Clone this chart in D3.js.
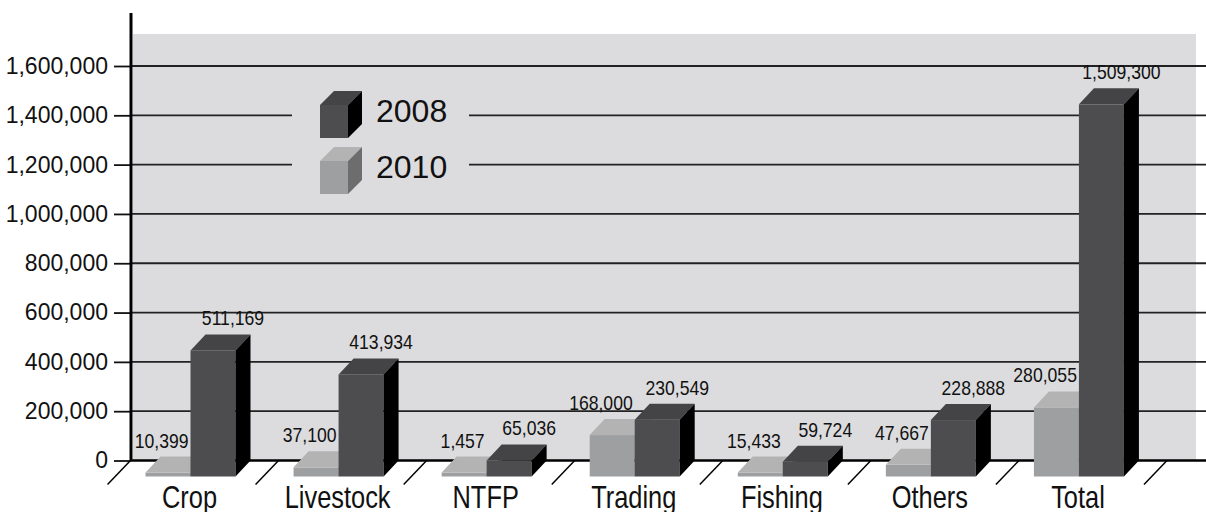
<!DOCTYPE html>
<html>
<head>
<meta charset="utf-8">
<script src="https://cdn.jsdelivr.net/npm/d3@7"></script>
<style>
  body { margin: 0; background: #fff; }
  svg { display: block; }
  .tick text { font-family: "Liberation Sans", Arial, sans-serif; font-size: 23px; fill: #111; }
  .val { font-family: "Liberation Sans", Arial, sans-serif; font-size: 20px; fill: #111; }
  .cat { font-family: "Liberation Sans", Arial, sans-serif; font-size: 31px; fill: #111; }
  .leg { font-family: "Liberation Sans", Arial, sans-serif; font-size: 32px; fill: #111; }
</style>
</head>
<body>
<svg id="graph"></svg>
<script>
// chart data
var categories = ["Crop", "Livestock", "NTFP", "Trading", "Fishing", "Others", "Total"];
var values2010 = [10399, 37100, 1457, 168000, 15433, 47667, 280055];
var values2008 = [511169, 413934, 65036, 230549, 59724, 228888, 1509300];
var seriesNames = ["2010", "2008"];
var tickValues = [0, 200000, 400000, 600000, 800000, 1000000, 1200000, 1400000, 1600000];

document.addEventListener("DOMContentLoaded", function(event) {
	var width = 1206, height = 512,
		graph = d3.select("#graph").attr("width", width).attr("height", height);

	var axisX = 131, panelTop = 34, panelRight = 1196,
		DX = 15, DY = 16,   // bar depth
		FX = 23, FY = 24;   // floor depth

	var colors = {
		"2008": {front: "#4d4d4f", top: "#444446", side: "#000"},
		"2010": {front: "#9e9fa1", top: "#b3b3b4", side: "#6d6d6e"}
	};

	// scales
	var y = d3.scaleLinear().domain([0, 1600000]).range([460.5, 66]);
	var x = d3.scaleBand().domain(categories).range([130.5, 1167]);
	var xs = d3.scaleBand().domain(seriesNames).range([30, 120]);
	var y0 = y(0);

	// back wall
	graph.append("rect")
		.attr("x", axisX + 2).attr("y", panelTop)
		.attr("width", panelRight - axisX - 2).attr("height", y0 - panelTop)
		.attr("fill", "#dcdcde");

	// gridlines
	graph.append("g").selectAll("line")
		.data(tickValues.slice(1))
		.enter().append("line")
			.attr("x1", axisX).attr("x2", width)
			.attr("y1", function(d) { return y(d); })
			.attr("y2", function(d) { return y(d); })
			.attr("stroke", "#222").attr("stroke-width", 1.8);

	// legend background covers gridlines
	graph.append("rect")
		.attr("x", 292).attr("y", 84).attr("width", 177).attr("height", 116)
		.attr("fill", "#dcdcde");

	// y axis
	var yAxis = graph.append("g")
		.attr("class", "axis yaxis")
		.attr("transform", "translate(" + axisX + ",0)")
		.call(d3.axisLeft(y).tickValues(tickValues).tickSize(17).tickPadding(6).tickFormat(d3.format(",")));
	yAxis.select(".domain").remove();
	yAxis.selectAll(".tick line").attr("stroke", "#111").attr("stroke-width", 1.8);

	graph.append("line")
		.attr("x1", axisX).attr("x2", axisX)
		.attr("y1", 13).attr("y2", y0)
		.attr("stroke", "#000").attr("stroke-width", 3);

	// floor: baseline and separators
	graph.append("line")
		.attr("x1", axisX).attr("x2", width)
		.attr("y1", y0).attr("y2", y0)
		.attr("stroke", "#000").attr("stroke-width", 2.5);

	var seps = categories.map(function(c) { return x(c); }).concat([x(categories[categories.length - 1]) + x.bandwidth()]);
	graph.append("g").selectAll("line")
		.data(seps)
		.enter().append("line")
			.attr("x1", function(d) { return d; }).attr("y1", y0)
			.attr("x2", function(d) { return d - FX; }).attr("y2", y0 + FY)
			.attr("stroke", "#000").attr("stroke-width", 1.5);

	// bars
	var bars = [];
	categories.forEach(function(c, i) {
		bars.push({cat: c, series: "2010", value: values2010[i]});
		bars.push({cat: c, series: "2008", value: values2008[i]});
	});

	var w = xs.bandwidth();
	bars.forEach(function(b) {
		b.xb = x(b.cat) + xs(b.series);
		b.h = Math.max(y0 - y(b.value), 4);
		b.top = y0 - b.h;
	});

	var bg = graph.append("g").selectAll("g")
		.data(bars)
		.enter().append("g");

	bg.append("rect")
		.attr("x", function(d) { return d.xb - DX; })
		.attr("y", function(d) { return d.top + DY; })
		.attr("width", w)
		.attr("height", function(d) { return d.h; })
		.attr("fill", function(d) { return colors[d.series].front; });

	bg.append("path")
		.attr("d", function(d) {
			return "M" + (d.xb - DX) + "," + (d.top + DY) + "L" + (d.xb - DX + w) + "," + (d.top + DY) +
				"L" + (d.xb + w) + "," + d.top + "L" + d.xb + "," + d.top + "Z";
		})
		.attr("fill", function(d) { return colors[d.series].top; });

	bg.append("path")
		.attr("d", function(d) {
			return "M" + (d.xb - DX + w) + "," + (d.top + DY) + "L" + (d.xb + w) + "," + d.top +
				"L" + (d.xb + w) + "," + y0 + "L" + (d.xb - DX + w) + "," + (y0 + DY) + "Z";
		})
		.attr("fill", function(d) { return colors[d.series].side; });

	// value labels, narrowed; 2010 labels end at their bar's right edge
	bg.append("text")
		.attr("class", "val")
		.attr("text-anchor", function(d) { return d.series === "2008" ? "middle" : "end"; })
		.attr("transform", function(d) {
			var tx = d.series === "2008" ? d.xb - DX + w / 2 + 20 : d.xb - DX + w - 2;
			return "translate(" + tx + "," + (d.top + DY - 25) + ") scale(0.88,1)";
		})
		.text(function(d) { return d3.format(",")(d.value); });

	// category labels, narrowed
	graph.append("g").selectAll("text")
		.data(categories)
		.enter().append("text")
			.attr("class", "cat")
			.attr("text-anchor", "middle")
			.attr("transform", function(d) {
				return "translate(" + (x(d) + x.bandwidth() / 2 - DX) + ",508) scale(0.82,1)";
			})
			.text(function(d) { return d; });

	// legend
	var legend = graph.append("g").selectAll("g")
		.data(["2008", "2010"])
		.enter().append("g")
			.attr("transform", function(d, i) { return "translate(320," + (105 + i * 56) + ")"; });
	var cw = 28, ch = 33, cd = 14;
	legend.append("rect")
		.attr("width", cw).attr("height", ch)
		.attr("fill", function(d) { return colors[d].front; });
	legend.append("path")
		.attr("d", "M0,0L" + cw + ",0L" + (cw + cd) + "," + (-cd) + "L" + cd + "," + (-cd) + "Z")
		.attr("fill", function(d) { return colors[d].top; });
	legend.append("path")
		.attr("d", "M" + cw + ",0L" + (cw + cd) + "," + (-cd) + "L" + (cw + cd) + "," + (ch - cd) + "L" + cw + "," + ch + "Z")
		.attr("fill", function(d) { return colors[d].side; });
	legend.append("text")
		.attr("class", "leg")
		.attr("x", 56).attr("y", 17)
		.text(function(d) { return d; });
});
</script>
</body>
</html>
